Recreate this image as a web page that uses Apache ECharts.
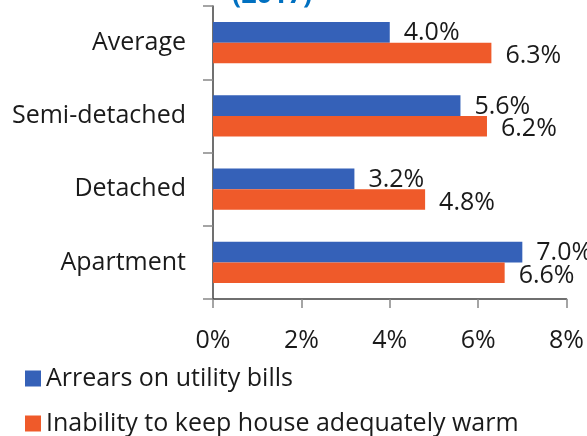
<!DOCTYPE html>
<html>
<head>
<meta charset="utf-8">
<script src="https://cdn.jsdelivr.net/npm/echarts@6/dist/echarts.min.js"></script>
<style>html,body{margin:0;padding:0;background:#fff;}#c{width:587px;height:436px;}</style>
</head>
<body>
<div id="c"></div>
<script>
const categories = ['Apartment', 'Detached', 'Semi-detached', 'Average'];
const arrears = [7.0, 3.2, 5.6, 4.0];
const warmth = [6.6, 4.8, 6.2, 6.3];
const seriesNames = ['Arrears on utility bills', 'Inability to keep house adequately warm'];
const xTicks = [0, 2, 4, 6, 8];
const titleText = '(2017)';

const FONT = '"Open Sans", "Noto Sans", sans-serif';
const FS = 25;
const chart = echarts.init(document.getElementById('c'));
chart.setOption({
  animation: false,
  textStyle: { fontFamily: FONT },
  title: {
    text: titleText, left: 227, top: -23,
    textStyle: { color: '#0070C0', fontSize: 27, fontWeight: 'bold', fontFamily: FONT }
  },
  grid: { left: 213, right: 20, top: 6, bottom: 137, containLabel: false },
  legend: {
    orient: 'vertical', left: 25, top: 366, padding: 0,
    itemWidth: 16, itemHeight: 16, itemGap: 20,
    icon: 'rect',
    data: seriesNames,
    textStyle: { fontSize: FS, color: '#1a1a1a', fontFamily: FONT }
  },
  xAxis: {
    type: 'value', min: xTicks[0], max: xTicks[xTicks.length - 1], interval: 2,
    axisLine: { show: true, lineStyle: { color: '#404040', width: 1.5 } },
    axisTick: { show: true, length: 9, lineStyle: { color: '#888', width: 1.5 } },
    splitLine: { show: false },
    axisLabel: { fontSize: FS, color: '#1a1a1a', margin: 29, formatter: v => v + '%' }
  },
  yAxis: {
    type: 'category', data: categories,
    axisLine: { show: true, lineStyle: { color: '#404040', width: 1.5 } },
    axisTick: { show: true, length: 10, lineStyle: { color: '#888', width: 1.5 } },
    axisLabel: { fontSize: FS, color: '#1a1a1a', margin: 27 }
  },
  series: [
    {
      name: seriesNames[0], type: 'bar', data: arrears,
      barGap: '0%', barCategoryGap: '44%',
      itemStyle: { color: '#3561B8' },
      label: { show: true, position: 'right', distance: 14, fontSize: FS, color: '#1a1a1a',
        offset: [0, 1], formatter: p => p.value.toFixed(1) + '%' }
    },
    {
      name: seriesNames[1], type: 'bar', data: warmth,
      barGap: '0%', barCategoryGap: '44%',
      itemStyle: { color: '#EF5A2A' },
      label: { show: true, position: 'right', distance: 14, fontSize: FS, color: '#1a1a1a',
        offset: [0, 3], formatter: p => p.value.toFixed(1) + '%' }
    }
  ]
});
</script>
</body>
</html>
